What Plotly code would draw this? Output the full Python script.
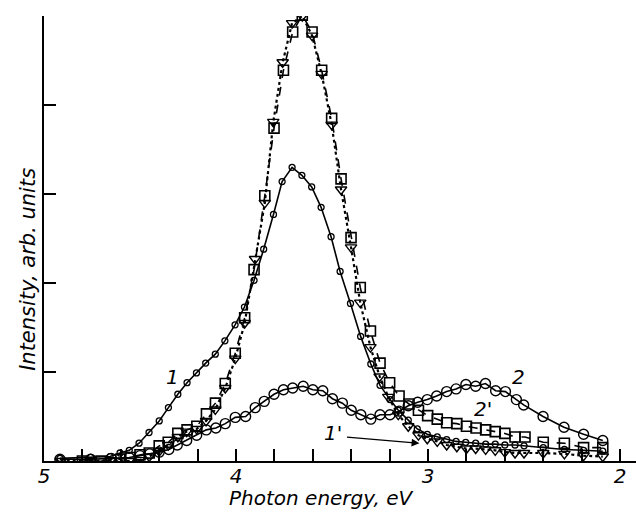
import plotly.graph_objects as go

# Series 1 (small circles, solid line)
e1 = [4.917, 4.757, 4.656, 4.604, 4.556, 4.505, 4.453, 4.400, 4.352, 4.303, 4.255, 4.206, 4.158, 4.108,
      4.058, 4.005, 3.956, 3.906, 3.856, 3.805, 3.760, 3.708, 3.657, 3.606, 3.557, 3.505, 3.458, 3.404,
      3.351, 3.298, 3.250, 3.198, 3.155, 3.103, 3.056, 3.004, 2.952, 2.903, 2.854, 2.804, 2.752, 2.700,
      2.650, 2.600, 2.547, 2.500, 2.400, 2.290, 2.190, 2.090]
i1 = [0.03, 0.04, 0.05, 0.09, 0.12, 0.20, 0.32, 0.45, 0.60, 0.75, 0.88, 0.99, 1.10, 1.20,
      1.35, 1.53, 1.73, 2.03, 2.38, 2.77, 3.14, 3.30, 3.21, 3.08, 2.85, 2.52, 2.13, 1.77,
      1.40, 1.09, 0.85, 0.69, 0.57, 0.46, 0.36, 0.30, 0.27, 0.24, 0.22, 0.21, 0.20, 0.19,
      0.19, 0.18, 0.18, 0.17, 0.15, 0.13, 0.12, 0.11]

# Series 1' (triangles, dotted line)
e1p = [4.913, 4.757, 4.653, 4.600, 4.552, 4.500, 4.452, 4.400, 4.353, 4.303, 4.257, 4.205, 4.156, 4.108,
       4.056, 4.004, 3.955, 3.901, 3.850, 3.806, 3.757, 3.708, 3.655, 3.604, 3.554, 3.502, 3.453, 3.401,
       3.353, 3.300, 3.252, 3.207, 3.155, 3.103, 3.050, 3.004, 2.952, 2.903, 2.850, 2.800, 2.752, 2.700,
       2.650, 2.600, 2.547, 2.500, 2.400, 2.290, 2.190, 2.090]
i1p = [0.00, 0.00, 0.01, 0.00, 0.00, 0.01, 0.05, 0.11, 0.18, 0.27, 0.33, 0.36, 0.45, 0.58,
       0.82, 1.15, 1.55, 2.27, 2.90, 3.81, 4.48, 4.92, 5.00, 4.78, 4.35, 3.78, 3.05, 2.40,
       1.78, 1.28, 0.95, 0.72, 0.52, 0.39, 0.29, 0.25, 0.22, 0.18, 0.16, 0.14, 0.14, 0.13,
       0.12, 0.10, 0.09, 0.09, 0.09, 0.08, 0.06, 0.05]

# Series 2 (large circles, solid line)
e2 = [4.917, 4.757, 4.650, 4.556, 4.500, 4.450, 4.400, 4.350, 4.306, 4.257, 4.205, 4.155, 4.105, 4.056,
      4.004, 3.950, 3.900, 3.853, 3.802, 3.753, 3.705, 3.650, 3.600, 3.548, 3.498, 3.446, 3.400, 3.350,
      3.298, 3.250, 3.198, 3.151, 3.103, 3.054, 3.004, 2.955, 2.903, 2.854, 2.803, 2.752, 2.701, 2.648,
      2.597, 2.540, 2.502, 2.401, 2.292, 2.190, 2.090]
i2 = [0.02, 0.02, 0.03, 0.04, 0.06, 0.08, 0.10, 0.13, 0.18, 0.23, 0.29, 0.35, 0.37, 0.42,
      0.49, 0.50, 0.60, 0.67, 0.75, 0.80, 0.82, 0.84, 0.80, 0.79, 0.70, 0.65, 0.57, 0.52,
      0.47, 0.52, 0.52, 0.56, 0.62, 0.66, 0.69, 0.73, 0.78, 0.81, 0.86, 0.84, 0.87, 0.79,
      0.78, 0.69, 0.63, 0.50, 0.38, 0.30, 0.23]

# Series 2' (squares, dashed line)
e2p = [4.800, 4.703, 4.600, 4.552, 4.500, 4.452, 4.400, 4.353, 4.303, 4.255, 4.204, 4.154, 4.107, 4.056,
       4.004, 3.955, 3.906, 3.850, 3.802, 3.753, 3.705, 3.655, 3.604, 3.554, 3.502, 3.453, 3.401, 3.353,
       3.300, 3.250, 3.200, 3.151, 3.099, 3.050, 3.002, 2.952, 2.903, 2.850, 2.800, 2.750, 2.700, 2.650,
       2.600, 2.547, 2.495, 2.400, 2.290, 2.190, 2.090]
i2p = [0.00, 0.00, 0.02, 0.04, 0.07, 0.09, 0.17, 0.21, 0.31, 0.35, 0.39, 0.53, 0.65, 0.87,
       1.21, 1.61, 2.15, 2.98, 3.74, 4.39, 4.82, 5.01, 4.82, 4.39, 3.85, 3.17, 2.51, 1.95,
       1.46, 1.10, 0.88, 0.73, 0.64, 0.57, 0.51, 0.47, 0.43, 0.42, 0.39, 0.37, 0.35, 0.33,
       0.31, 0.27, 0.27, 0.21, 0.20, 0.15, 0.15]

x_ticks = [5.0, 4.8, 4.6, 4.4, 4.2, 4.0, 3.8, 3.6, 3.4, 3.2, 3.0, 2.8, 2.6, 2.4, 2.2, 2.0]
x_ticktext = ["5", "", "", "", "", "4", "", "", "", "", "3", "", "", "", "", "2"]
y_ticks = [0, 1, 2, 3, 4, 5]

FONT = "DejaVu Sans"
BLACK = "#000000"

fig = go.Figure()
fig.add_trace(go.Scatter(
    x=e2, y=i2, mode="lines+markers", name="2",
    line=dict(color=BLACK, width=1.6),
    marker=dict(symbol="circle-open", size=10, color=BLACK, line=dict(width=1.4, color=BLACK)),
))
fig.add_trace(go.Scatter(
    x=e2p, y=i2p, mode="lines+markers", name="2'",
    line=dict(color=BLACK, width=1.6, dash="dash"),
    marker=dict(symbol="square-open", size=10, color=BLACK, line=dict(width=1.6, color=BLACK)),
))
fig.add_trace(go.Scatter(
    x=e1p, y=i1p, mode="lines+markers", name="1'",
    line=dict(color=BLACK, width=2.2, dash="dot"),
    marker=dict(symbol="triangle-down-open", size=10, color=BLACK, line=dict(width=1.4, color=BLACK)),
))
fig.add_trace(go.Scatter(
    x=e1, y=i1, mode="lines+markers", name="1",
    line=dict(color=BLACK, width=1.6),
    marker=dict(symbol="circle-open", size=6, color=BLACK, line=dict(width=1.3, color=BLACK)),
))

lab_font = dict(family=FONT, size=20, color=BLACK, style="italic")
tick_font = dict(family=FONT, size=20, color=BLACK, style="italic")
ylab_font = dict(family=FONT, size=21, color=BLACK, style="italic")
title_font = dict(family=FONT, size=20, color=BLACK, style="italic")
annotations = [
    dict(x=4.333, y=0.94, text="1", showarrow=False, font=lab_font),
    dict(x=2.531, y=0.94, text="2", showarrow=False, font=lab_font),
    dict(x=2.714, y=0.58, text="2'", showarrow=False, font=lab_font),
    dict(x=3.495, y=0.32, text="1'", showarrow=False, font=lab_font),
    dict(x=3.045, y=0.20, ax=3.43, ay=0.27, axref="x", ayref="y", xref="x", yref="y",
         text="", showarrow=True, arrowhead=2, arrowsize=1.2, arrowwidth=1.3, arrowcolor=BLACK),
    dict(x=0.468, y=-0.083, xref="paper", yref="paper", text="Photon energy, eV",
         showarrow=False, font=title_font, yanchor="middle"),
    dict(x=-0.052, y=0.43, xref="paper", yref="paper", text="Intensity, arb. units",
         showarrow=False, textangle=-90, font=ylab_font),
]

fig.update_layout(
    width=636, height=516,
    margin=dict(l=44, r=0, t=16, b=55),
    paper_bgcolor="white", plot_bgcolor="white",
    showlegend=False,
    annotations=annotations,
    xaxis=dict(
        range=[5.0, 1.917], showgrid=False, zeroline=False,
        showline=True, linecolor=BLACK, linewidth=2,
        tickmode="array", tickvals=x_ticks, ticktext=x_ticktext,
        ticks="inside", ticklen=12, tickwidth=1.5, tickcolor=BLACK,
        tickfont=tick_font, ticklabelstandoff=-4, automargin=False,
    ),
    yaxis=dict(
        range=[0, 5], showgrid=False, zeroline=False,
        showline=True, linecolor=BLACK, linewidth=2,
        tickmode="array", tickvals=y_ticks, showticklabels=False,
        ticks="inside", ticklen=12, tickwidth=1.5, tickcolor=BLACK,
        automargin=False,
    ),
)

fig.write_html(
    "out.html",
    config={"displayModeBar": False},
    post_script="document.body.style.margin='0';document.body.style.padding='0';document.body.style.overflow='hidden';",
)
